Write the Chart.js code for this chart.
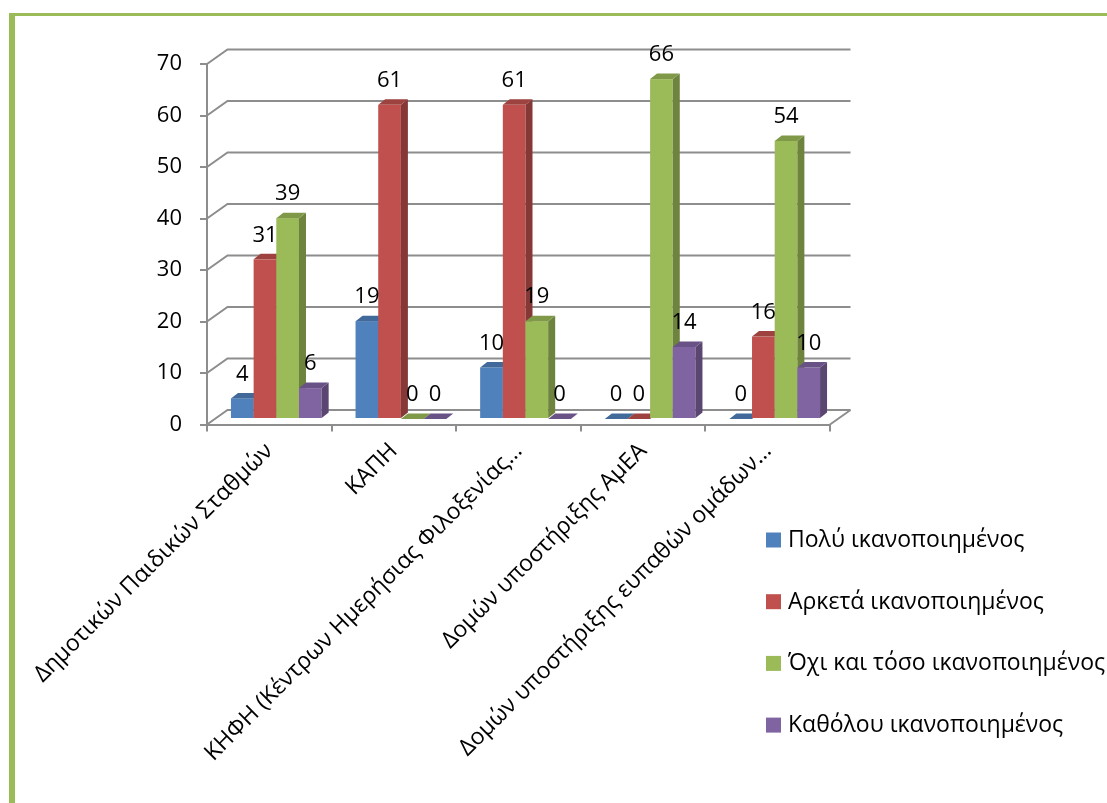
<!DOCTYPE html>
<html>
<head>
<meta charset="utf-8">
<script src="https://cdn.jsdelivr.net/npm/chart.js@4.4.1/dist/chart.umd.min.js"></script>
<style>
  html, body { margin: 0; padding: 0; background: #ffffff; overflow: hidden; }
  #frame {
    position: absolute; left: 9px; top: 13px; width: 1300px; height: 1000px;
    border-left: 6px solid #9BBB59; border-top: 3.5px solid #9BBB59;
  }
  #c { position: absolute; left: 0; top: 0; }
</style>
</head>
<body>
<div id="frame"></div>
<canvas id="c" width="1107" height="803"></canvas>
<script>
// Categories (support structures) and satisfaction series
const categories = [
  'Δημοτικών Παιδικών Σταθμών',
  'ΚΑΠΗ',
  'ΚΗΦΗ (Κέντρων Ημερήσιας Φιλοξενίας…',
  'Δομών υποστήριξης ΑμΕΑ',
  'Δομών υποστήριξης ευπαθών ομάδων…'
];
const seriesNames = [
  'Πολύ ικανοποιημένος',
  'Αρκετά ικανοποιημένος',
  'Όχι και τόσο ικανοποιημένος',
  'Καθόλου ικανοποιημένος'
];
const veryPleased   = [4, 19, 10, 0, 0];
const fairlyPleased = [31, 61, 61, 0, 16];
const notSoPleased  = [39, 0, 19, 66, 54];
const notAtAll      = [6, 0, 0, 14, 10];
const yTickValues   = [0, 10, 20, 30, 40, 50, 60, 70];

const seriesColors = ['#4F81BD', '#C0504D', '#9BBB59', '#8064A2'];
const GRID = '#8d8d8d';
const FONT = '"Open Sans", "Noto Sans", sans-serif';
const WALL = { dx: 20.5, dy: -14.5 };   // depth of side wall / floor
const BAR  = { dx: 7, dy: -5.5 };       // depth of each column

function shade(hex, f) {
  const n = parseInt(hex.slice(1), 16);
  const r = Math.round(((n >> 16) & 255) * f);
  const g = Math.round(((n >> 8) & 255) * f);
  const b = Math.round((n & 255) * f);
  return `rgb(${r},${g},${b})`;
}

// Draws the walls, the 3D columns with their value labels, and the legend
const depth3d = {
  id: 'depth3d',
  beforeDatasetsDraw(chart) {
    const { ctx, chartArea: a, scales: { y } } = chart;
    ctx.save();
    ctx.strokeStyle = GRID;
    ctx.lineWidth = 2;
    for (const v of yTickValues) {
      const py = y.getPixelForValue(v);
      ctx.beginPath();
      ctx.moveTo(a.left, py);
      ctx.lineTo(a.left + WALL.dx, py + WALL.dy);
      ctx.lineTo(a.right + WALL.dx, py + WALL.dy);
      ctx.stroke();
    }
    const p0 = y.getPixelForValue(0);
    ctx.beginPath();
    ctx.moveTo(a.right, p0);
    ctx.lineTo(a.right + WALL.dx, p0 + WALL.dy);
    ctx.stroke();

    const nCat = chart.data.labels.length;
    const nSer = chart.data.datasets.length;
    for (let j = 0; j < nCat; j++) {
      for (let i = 0; i < nSer; i++) {
        const el = chart.getDatasetMeta(i).data[j];
        const col = chart.data.datasets[i].backgroundColor;
        const L = el.x - el.width / 2 + BAR.dx;
        const R = el.x + el.width / 2 + BAR.dx;
        const T = el.y + BAR.dy;
        const B = el.base + BAR.dy;
        // front face
        ctx.fillStyle = col;
        ctx.fillRect(L, T, R - L, B - T);
        // right side face
        ctx.fillStyle = shade(col, 0.7);
        ctx.beginPath();
        ctx.moveTo(R, T); ctx.lineTo(R + BAR.dx, T + BAR.dy);
        ctx.lineTo(R + BAR.dx, B + BAR.dy); ctx.lineTo(R, B);
        ctx.closePath(); ctx.fill();
        // top face
        ctx.fillStyle = shade(col, 0.82);
        ctx.beginPath();
        ctx.moveTo(L, T); ctx.lineTo(R, T);
        ctx.lineTo(R + BAR.dx, T + BAR.dy); ctx.lineTo(L + BAR.dx, T + BAR.dy);
        ctx.closePath(); ctx.fill();
      }
    }
    // value labels
    ctx.fillStyle = '#000';
    ctx.font = `22px ${FONT}`;
    ctx.textAlign = 'center';
    ctx.textBaseline = 'middle';
    for (let i = 0; i < nSer; i++) {
      const vals = chart.data.datasets[i].data;
      chart.getDatasetMeta(i).data.forEach((el, j) => {
        ctx.fillText(String(vals[j]), el.x + BAR.dx, el.y + BAR.dy - 24);
      });
    }
    ctx.restore();
    return false;
  },
  afterDraw(chart) {
    const { ctx } = chart;
    ctx.save();
    ctx.font = `23px ${FONT}`;
    ctx.textAlign = 'left';
    ctx.textBaseline = 'middle';
    chart.data.datasets.forEach((ds, i) => {
      const top = 532.5 + i * 61.7;
      ctx.fillStyle = ds.backgroundColor;
      ctx.fillRect(766, top, 15, 15);
      ctx.fillStyle = '#000';
      ctx.fillText(ds.label, 788, top + 8);
    });
    ctx.restore();
  }
};

const seriesValues = [veryPleased, fairlyPleased, notSoPleased, notAtAll];

function build() {
  new Chart(document.getElementById('c'), {
    type: 'bar',
    data: {
      labels: categories,
      datasets: seriesNames.map((name, i) => ({
        label: name,
        data: seriesValues[i],
        backgroundColor: seriesColors[i],
        borderWidth: 0
      }))
    },
    options: {
      responsive: false,
      animation: false,
      devicePixelRatio: 1,
      categoryPercentage: 0.728,
      barPercentage: 1.0,
      layout: { padding: { left: 0, top: 64, right: 277, bottom: 0 } },
      plugins: { legend: { display: false }, tooltip: { enabled: false } },
      scales: {
        x: {
          grid: { display: true, drawOnChartArea: false, drawTicks: true, tickLength: 7, color: GRID, lineWidth: 2, offset: true },
          border: { display: true, color: GRID, width: 2 },
          ticks: {
            color: '#000', font: { family: FONT, size: 23 },
            minRotation: 45, maxRotation: 45, autoSkip: false, padding: 6
          },
          afterFit(s) { s.height = 378.5; s.paddingLeft = 0; s.paddingRight = 0; }
        },
        y: {
          min: 0, max: 70,
          afterBuildTicks(s) { s.ticks = yTickValues.map(v => ({ value: v })); },
          grid: { display: true, drawOnChartArea: false, drawTicks: true, tickLength: 7, color: GRID, lineWidth: 2 },
          border: { display: true, color: GRID, width: 2 },
          ticks: { color: '#000', font: { family: FONT, size: 22 }, padding: 18 },
          afterFit(s) { s.width = 207; s.paddingTop = 0; s.paddingBottom = 0; }
        }
      }
    },
    plugins: [depth3d]
  });
}

if (document.fonts && document.fonts.load) {
  document.fonts.load(`22px ${FONT}`, 'Πολύ 0123').then(build, build);
} else {
  build();
}
</script>
</body>
</html>
